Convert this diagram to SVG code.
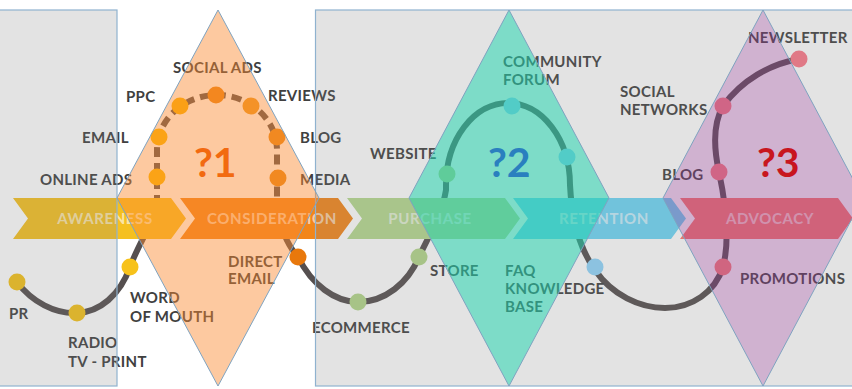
<svg xmlns="http://www.w3.org/2000/svg" width="852" height="389" viewBox="0 0 852 389">
  <defs>
    <style>
      .lbl { font-family: Lato, "Open Sans", "DejaVu Sans", sans-serif; font-weight: 700; font-size: 15px; letter-spacing: 0.3px; fill: #404040; }
      .stage-txt { font-family: Lato, "Open Sans", "DejaVu Sans", sans-serif; font-weight: 700; font-size: 15px; letter-spacing: 0.6px; fill: #ffffff; fill-opacity: 0.62; text-anchor: middle; }
      .path { fill: none; stroke: #554f4f; stroke-width: 6; }
      .dashed { stroke-dasharray: 10 6; }
      .dot { stroke: none; }
      .zone-gray { fill: #808080; fill-opacity: 0.22; stroke: #8fb2cf; stroke-width: 1.2; }
      .zone-edge { stroke: #7fa3c0; stroke-width: 1; }
      .q { font-family: Lato, "Liberation Sans", sans-serif; font-weight: 700; font-size: 41px; }
    </style>
  </defs>

  <rect x="0" y="0" width="852" height="389" fill="#ffffff"/>

  <!-- journey line -->
  <g id="connectors">
    <path class="path" d="M17,282 C32,302 55,314 77,313 C100,312 120,295 130,267 C138,245 152,225 157,205"/>
    <path class="path dashed" d="M157,205 L157,150 A60,55 0 0 1 277,150 L277,205"/>
    <path class="path" d="M277,205 C279,225 287,245 298,257 C312,285 335,302 358,302 C385,302 408,283 419,257 C428,237 442,215 446,190 L446,185 A62,82 0 0 1 570,185 C572,225 582,252 595,270 C612,295 640,308 665,308 C692,308 715,292 723,267 C730,240 726,205 719,172 C713,145 714,122 723,106 C742,80 770,64 799,59"/>
  </g>

  <!-- stages -->
  <g id="stage-awareness">
    <path d="M13,198 L171,198 L186,218.5 L171,239 L13,239 L28,218.5 Z" fill="#f5c020"/>
    <text class="stage-txt" x="105" y="224">AWARENESS</text>
  </g>
  <g id="stage-consideration">
    <path d="M180,198 L338,198 L353,218.5 L338,239 L180,239 L195,218.5 Z" fill="#f2861a"/>
    <text class="stage-txt" x="272" y="224">CONSIDERATION</text>
  </g>
  <g id="stage-purchase">
    <path d="M347,198 L505,198 L520,218.5 L505,239 L347,239 L362,218.5 Z" fill="#b5d98f"/>
    <text class="stage-txt" x="430" y="224">PURCHASE</text>
  </g>
  <g id="stage-retention">
    <path d="M513,198 L671,198 L686,218.5 L671,239 L513,239 L528,218.5 Z" fill="#6ed6f6"/>
    <text class="stage-txt" x="604" y="224">RETENTION</text>
  </g>
  <g id="stage-advocacy">
    <path d="M680,198 L838,198 L853,218.5 L838,239 L680,239 L695,218.5 Z" fill="#ff786e"/>
    <text class="stage-txt" x="770" y="224">ADVOCACY</text>
  </g>

  <!-- touchpoints -->
  <g id="pr"><circle class="dot" cx="17" cy="282" r="8.5" fill="#f5c218"/><text class="lbl" x="9" y="319">PR</text></g>
  <g id="radio-tv-print"><circle class="dot" cx="77" cy="313" r="8.5" fill="#f5c218"/><text class="lbl" x="68" y="348">RADIO</text><text class="lbl" x="68" y="367">TV - PRINT</text></g>
  <g id="word-of-mouth"><circle class="dot" cx="130" cy="267" r="8.5" fill="#f7c21a"/><text class="lbl" x="130" y="303">WORD</text><text class="lbl" x="130" y="322">OF MOUTH</text></g>
  <g id="online-ads"><circle class="dot" cx="157" cy="177" r="8.5" fill="#fbb900"/><text class="lbl" x="40" y="185">ONLINE ADS</text></g>
  <g id="email"><circle class="dot" cx="159" cy="137" r="8.5" fill="#fbb900"/><text class="lbl" x="82" y="143">EMAIL</text></g>
  <g id="ppc"><circle class="dot" cx="180" cy="106" r="8.5" fill="#fbb400"/><text class="lbl" x="126" y="102">PPC</text></g>
  <g id="social-ads"><circle class="dot" cx="216" cy="95" r="8.5" fill="#ec8512"/><text class="lbl" x="173" y="73">SOCIAL ADS</text></g>
  <g id="reviews"><circle class="dot" cx="251" cy="106" r="8.5" fill="#ee9a20"/><text class="lbl" x="268" y="101">REVIEWS</text></g>
  <g id="blog-1"><circle class="dot" cx="277" cy="137" r="8.5" fill="#e98a16"/><text class="lbl" x="300" y="143">BLOG</text></g>
  <g id="media"><circle class="dot" cx="278" cy="178" r="8.5" fill="#e98a16"/><text class="lbl" x="300" y="185">MEDIA</text></g>
  <g id="direct-email"><circle class="dot" cx="298" cy="257" r="8.5" fill="#e8780c"/><text class="lbl" x="228" y="267">DIRECT</text><text class="lbl" x="228" y="284">EMAIL</text></g>
  <g id="ecommerce"><circle class="dot" cx="358" cy="302" r="8.5" fill="#b3d78a"/><text class="lbl" x="312" y="333">ECOMMERCE</text></g>
  <g id="store"><circle class="dot" cx="419" cy="257" r="8.5" fill="#b3d78a"/><text class="lbl" x="430" y="276">STORE</text></g>
  <g id="website"><circle class="dot" cx="447" cy="174" r="8.5" fill="#b3d78a"/><text class="lbl" x="370" y="159">WEBSITE</text></g>
  <g id="community-forum"><circle class="dot" cx="512" cy="106" r="8.5" fill="#90d5fb"/><text class="lbl" x="503" y="67">COMMUNITY</text><text class="lbl" x="503" y="85">FORUM</text></g>
  <g id="retention-point"><circle class="dot" cx="567" cy="157" r="8.5" fill="#90d5fb"/></g>
  <g id="faq-knowledge-base"><circle class="dot" cx="595" cy="267" r="8.5" fill="#90d5fb"/><text class="lbl" x="505" y="276">FAQ</text><text class="lbl" x="505" y="294">KNOWLEDGE</text><text class="lbl" x="505" y="312">BASE</text></g>
  <g id="promotions"><circle class="dot" cx="723" cy="267" r="8.5" fill="#ff7d78"/><text class="lbl" x="740" y="284">PROMOTIONS</text></g>
  <g id="blog-2"><circle class="dot" cx="719" cy="172" r="8.5" fill="#ff7d80"/><text class="lbl" x="662" y="180">BLOG</text></g>
  <g id="social-networks"><circle class="dot" cx="723" cy="106" r="8.5" fill="#ff7d80"/><text class="lbl" x="620" y="97">SOCIAL</text><text class="lbl" x="620" y="115">NETWORKS</text></g>
  <g id="newsletter"><circle class="dot" cx="799" cy="59" r="8.5" fill="#fb7888"/><text class="lbl" x="748" y="43">NEWSLETTER</text></g>

  <!-- translucent grey bands -->
  <g id="band-left"><rect class="zone-gray" x="-2" y="10" width="119" height="376"/></g>
  <g id="band-right"><rect class="zone-gray" x="315.5" y="10" width="560" height="376"/></g>

  <!-- translucent diamonds -->
  <g id="zone-1">
    <path class="zone-edge" d="M218,10 L319,198 L218,386 L117,198 Z" fill="#fa8a30" fill-opacity="0.46"/>
    <text class="q" x="194" y="177" fill="#f26a10">?1</text>
  </g>
  <g id="zone-2">
    <path class="zone-edge" d="M509,10 L609,198 L509,386 L409,198 Z" fill="#17d5ad" fill-opacity="0.5"/>
    <text class="q" x="488" y="177" fill="#2a7fbf">?2</text>
  </g>
  <g id="zone-3">
    <path class="zone-edge" d="M763,10 L863,198 L763,386 L663,198 Z" fill="#982099" fill-opacity="0.25"/>
    <text class="q" x="757" y="177" fill="#c8161e">?3</text>
  </g>
</svg>
